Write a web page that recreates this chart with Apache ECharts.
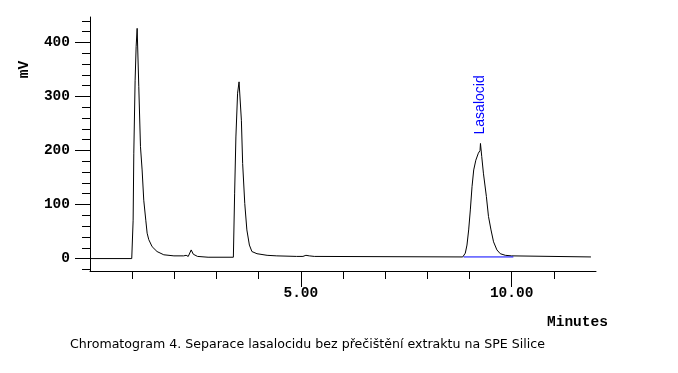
<!DOCTYPE html>
<html>
<head>
<meta charset="utf-8">
<script src="https://cdn.jsdelivr.net/npm/echarts@6/dist/echarts.min.js"></script>
<style>
html,body{margin:0;padding:0;background:#fff;}
#main{width:678px;height:373px;}
</style>
</head>
<body>
<div id="main"></div>
<script>
// chromatogram trace, time in minutes / signal in mV
var times = [0, 0.99, 1.0, 1.023, 1.039, 1.07, 1.094, 1.118, 1.133, 1.157, 1.197, 1.236, 1.275, 1.323, 1.355, 1.394, 1.473, 1.59, 1.75, 1.99,
  2.22, 2.28, 2.33, 2.40, 2.45, 2.55, 2.8, 3.40, 3.43, 3.46, 3.50, 3.535, 3.56, 3.59, 3.62, 3.67, 3.72, 3.78, 3.84, 3.96, 4.20, 4.43,
  4.9, 5.05, 5.12, 5.2, 5.32, 5.36, 8.84, 8.86, 8.90, 8.94, 8.98, 9.02, 9.06, 9.10, 9.15, 9.21, 9.25, 9.26, 9.29, 9.33, 9.40, 9.45,
  9.51, 9.57, 9.65, 9.73, 9.85, 10.0, 10.04, 11.88];
var mv = [0, 0, 1, 71, 195, 330, 392, 426, 426, 318, 207, 164, 108, 71, 47, 35, 22, 13, 7, 5,
  5, 6, 4, 16, 8, 4, 2.5, 2.5, 121, 225, 306, 327, 324, 256, 176, 102, 53, 25, 13, 9, 6, 5,
  4, 4, 6, 5, 4, 3, 3, 3, 10, 25, 53, 90, 133, 164, 182, 195, 200, 213, 189, 158, 115, 78,
  53, 31, 16, 9, 6, 5, 3, 3];

// integration baseline under the lasalocid peak
var baseTimes = [8.86, 10.04];
var baseMv = [3, 3];

var peakName = 'Lasalocid';
var peakTime = 9.26;
var peakMv = 213;

var yTicks = [-20, 0, 20, 40, 60, 80, 100, 120, 140, 160, 180, 200, 220, 240, 260, 280, 300, 320, 340, 360, 380, 400, 420, 440];
var yLabels = [0, 100, 200, 300, 400];
var xTicks = [1, 2, 3, 4, 5, 6, 7, 8, 9, 10, 11];
var xLabels = [5, 10];

var trace = [];
for (var i = 0; i < times.length; i++) {
  trace.push([times[i], mv[i]]);
}
var baseLine = [];
for (var j = 0; j < baseTimes.length; j++) {
  baseLine.push([baseTimes[j], baseMv[j]]);
}

var monoFont = 'Liberation Mono';
var chart = echarts.init(document.getElementById('main'));

var option = {
  backgroundColor: '#fff',
  animation: false,
  grid: { left: 90, top: 17, width: 506, height: 254 },
  xAxis: [
    {
      type: 'value', min: 0, max: 12,
      axisLine: { onZero: false, lineStyle: { color: '#000', width: 1 } },
      axisTick: { customValues: xTicks, length: 8, lineStyle: { color: '#000' } },
      axisLabel: {
        customValues: xLabels, margin: 15, color: '#000',
        fontFamily: monoFont, fontWeight: 'bold', fontSize: 14.5,
        formatter: function (v) { return v.toFixed(2); }
      },
      splitLine: { show: false }
    },
    {
      // longer ticks under the labelled minutes
      type: 'value', min: 0, max: 12, position: 'bottom',
      axisLine: { show: false, onZero: false },
      axisTick: { customValues: xLabels, length: 16, lineStyle: { color: '#000' } },
      axisLabel: { show: false },
      splitLine: { show: false }
    }
  ],
  yAxis: [
    {
      type: 'value', min: -23, max: 447,
      axisLine: { show: true, lineStyle: { color: '#000', width: 1 } },
      axisTick: { customValues: yTicks, length: 8, lineStyle: { color: '#000' } },
      axisLabel: {
        customValues: yLabels, margin: 20, color: '#000',
        fontFamily: monoFont, fontWeight: 'bold', fontSize: 14.5
      },
      splitLine: { show: false }
    },
    {
      type: 'value', min: -23, max: 447, position: 'left',
      axisLine: { show: false },
      axisTick: { customValues: yLabels, length: 15, lineStyle: { color: '#000' } },
      axisLabel: { show: false },
      splitLine: { show: false }
    }
  ],
  graphic: [
    {
      type: 'text', x: 24, y: 69.5, rotation: Math.PI / 2,
      style: { text: 'mV', fill: '#000', font: 'bold 14.5px "Liberation Mono"', align: 'center', verticalAlign: 'middle' }
    },
    {
      type: 'text', x: 547, y: 322,
      style: { text: 'Minutes', fill: '#000', font: 'bold 14.5px "Liberation Mono"', align: 'left', verticalAlign: 'middle' }
    },
    {
      type: 'text', x: 70, y: 345,
      style: { text: 'Chromatogram 4. Separace lasalocidu bez přečištění extraktu na SPE Silice', fill: '#000', font: '12.6px "DejaVu Sans"', align: 'left', verticalAlign: 'middle' }
    }
  ],
  series: [
    {
      type: 'line', data: trace, showSymbol: false, symbol: 'none',
      lineStyle: { color: '#000', width: 1 },
      markPoint: {
        symbol: 'circle', symbolSize: 0,
        data: [{ name: peakName, coord: [peakTime, peakMv] }],
        label: {
          show: true, formatter: '{b}', position: 'top', distance: 9,
          rotate: 90, align: 'left', verticalAlign: 'middle',
          color: '#0000ff', fontFamily: 'Liberation Sans', fontSize: 14
        }
      },
      z: 2
    },
    {
      type: 'line', data: baseLine, showSymbol: false, symbol: 'none',
      lineStyle: { color: '#0000ff', width: 1 },
      z: 3
    }
  ]
};
chart.setOption(option);
</script>
</body>
</html>
